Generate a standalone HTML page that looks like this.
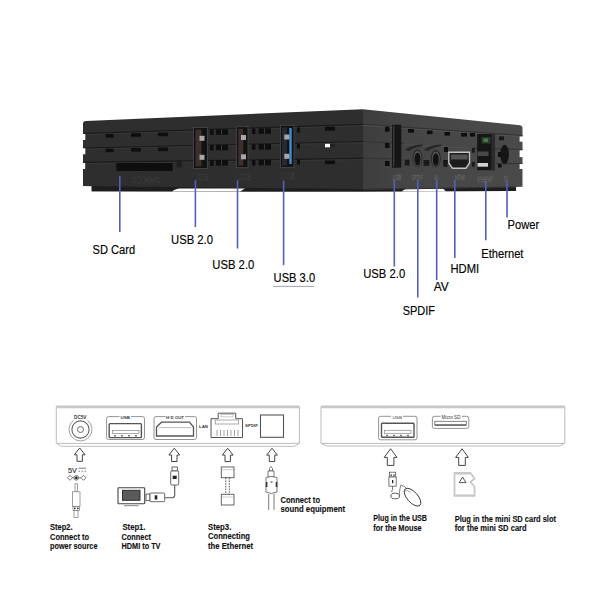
<!DOCTYPE html>
<html><head><meta charset="utf-8">
<style>
html,body{margin:0;padding:0;background:#fff;width:600px;height:600px;overflow:hidden}
svg{display:block}
.lbl{font-family:"Liberation Sans",sans-serif;font-size:12px;fill:#000;stroke:#000;stroke-width:0.15px}
.stp{font-family:"Liberation Sans",sans-serif;font-size:8.4px;font-weight:bold;fill:#111;stroke:#111;stroke-width:0.12px}
.tiny{font-family:"Liberation Sans",sans-serif;font-size:4px;fill:#3a3a3a;font-weight:bold}
</style></head><body>
<svg width="600" height="600" viewBox="0 0 600 600">
<defs>
  <linearGradient id="rf" x1="363" y1="0" x2="522" y2="0" gradientUnits="userSpaceOnUse">
    <stop offset="0" stop-color="#3d3d3d"/><stop offset="0.25" stop-color="#454545"/><stop offset="1" stop-color="#4a4a4a"/>
  </linearGradient>
</defs>
<rect width="600" height="600" fill="#fff"/>

<!-- ===== TOP PRODUCT BOX ===== -->
<g id="box">
  <!-- front face -->
  <path d="M83,123.5 Q83,121 86,121 L363,109.2 L363,191.5 L91.7,191.3 L91.7,186.3 L83,186 Z" fill="#2e2e2e"/>
  <!-- right face -->
  <path d="M363,109.2 L520,125.3 Q522.5,125.6 522.5,128 L522.5,186.7 L516,186.9 L516,191 L363,191.5 Z" fill="url(#rf)"/>
  <!-- foot darker band -->
  <path d="M91.7,186.3 L363,189 L516,186.9 L516,191 L363,191.5 L91.7,191.3 Z" fill="#1d1d1d"/>
  <!-- white wedges under -->
  <path d="M172,191.6 Q175,188.6 180,188.4 L245,188.6 L240,191.6 Z" fill="#fff"/>
  <path d="M402,191.6 Q404,188.6 408,188.4 L443,188.4 L446,191.6 Z" fill="#fff"/>

  <!-- front grooves -->
  <g stroke="#1a1a1a" stroke-width="1.2" fill="none">
    <path d="M83,133.5 L363,124.3"/>
    <path d="M83,148 L363,141.5"/>
    <path d="M83,162.3 L363,158.3"/>
  </g>
  <g stroke="#383838" stroke-width="0.8" fill="none">
    <path d="M83,134.8 L363,125.6"/>
    <path d="M83,149.3 L363,142.8"/>
    <path d="M83,163.6 L363,159.6"/>
  </g>
  <!-- right face grooves -->
  <g stroke="#333" stroke-width="1.1" fill="none">
    <path d="M363,124.3 L522.5,135.5"/>
    <path d="M363,141.5 L404,143.5"/>
    <path d="M474,148 L522.5,149.5"/>
    <path d="M363,158.3 L400,159"/>
    <path d="M496,163.5 L522.5,163.8"/>
    <path d="M363,189.5 L516,187"/>
  </g>
  <g stroke="#555" stroke-width="0.7" fill="none">
    <path d="M363,125.5 L522.5,136.7"/>
    <path d="M404,144.5 L474,148.5"/>
  </g>
  <!-- left notches -->
  <g fill="#fff">
    <rect x="82" y="134" width="3.3" height="6"/>
    <rect x="82" y="148.3" width="3.3" height="6"/>
    <rect x="82" y="163" width="3.2" height="6"/>
    <rect x="519.6" y="136.5" width="4" height="5.2"/>
    <rect x="519.6" y="150.3" width="4" height="6.8"/>
    <rect x="519.6" y="164" width="4" height="5"/>
  </g>
  <!-- front slots -->
  <g fill="#0e0e0e">
    <rect x="105.6" y="134" width="8" height="3.6"/>
    <rect x="131" y="133.2" width="9.8" height="3.6"/>
    <rect x="158" y="132.6" width="10" height="3.6"/>
    <rect x="105.6" y="148.6" width="8" height="3.6"/>
    <rect x="131" y="148" width="9.8" height="3.6"/>
    <rect x="158" y="147.5" width="10" height="3.6"/>
    <!-- SD slot -->
    <rect x="116.3" y="163" width="56.3" height="8" rx="0.5"/>
    <rect x="176.7" y="161" width="5" height="6.3" fill="#1e1e1e"/>
    <!-- small slots around usb -->
    <rect x="210" y="129.5" width="3.5" height="5.5"/>
    <rect x="216" y="129.3" width="12" height="5.5"/>
    <rect x="210" y="145" width="3.5" height="5.5"/>
    <rect x="216" y="144.8" width="12" height="5.5"/>
    <rect x="210" y="160.3" width="3.5" height="5.5"/>
    <rect x="216" y="160.1" width="12" height="5.5"/>
    <rect x="252" y="128.5" width="3.5" height="5.5"/>
    <rect x="258.5" y="128.3" width="12.5" height="5.5"/>
    <rect x="252" y="144.3" width="3.5" height="5.5"/>
    <rect x="258.5" y="144.1" width="12.5" height="5.5"/>
    <rect x="252" y="160" width="3.5" height="5.5"/>
    <rect x="258.5" y="159.8" width="12.5" height="5.5"/>
    <rect x="297" y="127.5" width="3" height="5"/>
    <rect x="297" y="143.5" width="3" height="5"/>
    <rect x="297" y="159.5" width="3" height="5"/>
    <rect x="325" y="126.7" width="10" height="4"/>
    <rect x="325" y="160.5" width="10" height="3.6"/>
    <!-- right face small slots -->
    <rect x="385" y="126.7" width="4.5" height="5"/>
    <rect x="385" y="143" width="4.5" height="5"/>
    <rect x="385" y="161" width="4.5" height="5"/>
    <rect x="408" y="129" width="6" height="3.6"/>
    <rect x="427" y="130.5" width="5.5" height="3.6"/>
    <rect x="444.5" y="132" width="5.5" height="3.6"/>
    <rect x="461" y="133" width="6" height="3.6"/>
    <rect x="470" y="133" width="5" height="3.6"/>
    <rect x="499" y="137" width="5" height="3.2"/>
    <rect x="405" y="160" width="4" height="4"/>
    <rect x="425" y="160" width="4" height="4"/>
    <rect x="443.5" y="160" width="4" height="4"/>
    <rect x="444" y="147" width="4" height="5"/>
    <rect x="498" y="152" width="3.5" height="5"/>
    <rect x="498" y="164" width="3.5" height="3.5"/>
  </g>
  <g fill="#3a3a3a">
    <rect x="221" y="129.5" width="1" height="5"/><rect x="221" y="145" width="1" height="5"/><rect x="221" y="160.3" width="1" height="5"/>
    <rect x="264" y="128.5" width="1" height="5"/><rect x="264" y="144.3" width="1" height="5"/><rect x="264" y="160" width="1" height="5"/>
  </g>
  <rect x="325" y="143.8" width="5" height="3.5" fill="#fff"/>
  <rect x="330" y="143.8" width="5" height="3.5" fill="#222"/>

  <!-- USB ports front -->
  <g>
    <rect x="193.5" y="127.5" width="14" height="41" fill="#121212" stroke="#4a4a4a" stroke-width="0.8"/>
    <rect x="195.5" y="129.5" width="6" height="37" fill="#3b302b"/>
    <rect x="199.5" y="135.8" width="5" height="5" fill="#a8a8a8"/>
    <rect x="199.5" y="154.8" width="5" height="5" fill="#a8a8a8"/>

    <rect x="236.5" y="126.7" width="11.5" height="41" fill="#121212" stroke="#4a4a4a" stroke-width="0.8"/>
    <rect x="238.3" y="128.7" width="5" height="37" fill="#3b302b"/>
    <rect x="241" y="135" width="5" height="5" fill="#a8a8a8"/>
    <rect x="241" y="154.3" width="5" height="5" fill="#a8a8a8"/>

    <rect x="280.5" y="125.3" width="13.5" height="42" fill="#121212" stroke="#4a4a4a" stroke-width="0.8"/>
    <rect x="282" y="127.5" width="5" height="38" fill="#262a30"/>
    <rect x="289.3" y="128" width="2.4" height="36" fill="#3d8fd8"/>
    <rect x="284.3" y="134.5" width="5" height="5" fill="#a8a8a8"/>
    <rect x="284.3" y="153.8" width="5" height="5" fill="#a8a8a8"/>
  </g>

  <!-- right-face ports -->
  <rect x="392" y="124.7" width="9.3" height="43" fill="#161616"/>
  <rect x="393" y="125.7" width="1.3" height="41" fill="#3c3c3c"/>
  <path d="M405,150 Q410,145 422,144.5 L423,146 Q414,147 409,151 Z" fill="#262626"/>
  <path d="M424,150 Q429,145 441,144.5 L442,146 Q433,147 428,151 Z" fill="#262626"/>
  <ellipse cx="417.5" cy="158" rx="5" ry="8.8" fill="#2a2a2a"/>
  <ellipse cx="417.5" cy="158.5" rx="4" ry="7.5" fill="#555"/>
  <ellipse cx="417.5" cy="159" rx="3" ry="6.3" fill="#121212"/>
  <ellipse cx="435.8" cy="158.5" rx="5" ry="8.8" fill="#2a2a2a"/>
  <ellipse cx="435.8" cy="159" rx="4" ry="7.5" fill="#555"/>
  <ellipse cx="435.8" cy="159.5" rx="3" ry="6.3" fill="#121212"/>
  <g fill="#1a1a1a">
    <rect x="404.8" y="159.7" width="4.7" height="5.8"/>
    <rect x="423.5" y="160" width="5.8" height="5.8"/>
    <rect x="443.3" y="161" width="4.2" height="5.8"/>
    <rect x="471.8" y="148" width="3" height="4.7"/>
    <rect x="471.8" y="162" width="3" height="4.7"/>
  </g>
  <!-- HDMI -->
  <path d="M448.8,152.2 L469.5,152.2 L469.5,163 L465.8,168.3 L452.5,168.3 L448.8,163 Z" fill="#1c1c1c" stroke="#c4c4c4" stroke-width="1.4"/>
  <rect x="451" y="154.5" width="16.5" height="5" fill="#555"/>
  <!-- Ethernet -->
  <rect x="477.2" y="134" width="17.5" height="36.2" fill="#161616"/>
  <rect x="491.5" y="134" width="3.2" height="36.2" fill="#2c2c2c"/>
  <rect x="481.5" y="137" width="9" height="6.5" fill="#2a3f2a"/>
  <rect x="483.5" y="138.5" width="4.5" height="3.5" fill="#4a7a4a"/>
  <rect x="477.5" y="151.5" width="11" height="4.5" fill="#484848"/>
  <rect x="477.5" y="163" width="10.5" height="3.7" fill="#d0d0d0"/>
  <!-- power -->
  <ellipse cx="504.6" cy="154.4" rx="4.3" ry="9.6" fill="#151515"/>
  <rect x="499.3" y="136.3" width="4.7" height="3.5" fill="#1a1a1a"/>

  <!-- tiny labels -->
  <g style="font-family:'Liberation Sans',sans-serif" fill="#1a1a1a" stroke="#484848" stroke-width="0.35">
    <text x="132.3" y="183.3" style="font-size:8.8px" textLength="27.8" lengthAdjust="spacingAndGlyphs">SD/MMC</text>
    <text x="193" y="180.3" style="font-size:8.6px" textLength="15" lengthAdjust="spacingAndGlyphs">USB</text>
    <text x="236" y="179.8" style="font-size:8.6px" textLength="14.5" lengthAdjust="spacingAndGlyphs">USB</text>
    <text x="279.5" y="179.3" style="font-size:8.6px" textLength="15" lengthAdjust="spacingAndGlyphs">USB</text>
  </g>
  <g style="font-family:'Liberation Sans',sans-serif" fill="#404040" stroke="#6c6c6c" stroke-width="0.35">
    <text x="392.5" y="179.5" style="font-size:7px" textLength="8.5" lengthAdjust="spacingAndGlyphs">USB</text>
    <text x="411.7" y="179.8" style="font-size:7px" textLength="10.8" lengthAdjust="spacingAndGlyphs">SPDIF</text>
    <text x="434" y="179.8" style="font-size:7px" textLength="4.5" lengthAdjust="spacingAndGlyphs">AV</text>
    <text x="455" y="180.2" style="font-size:7px" textLength="10" lengthAdjust="spacingAndGlyphs">HDMI</text>
    <text x="477.5" y="181.8" style="font-size:6.6px" textLength="15.8" lengthAdjust="spacingAndGlyphs">ETHERNET</text>
    <text x="504" y="180.5" style="font-size:6.6px" textLength="4.5" lengthAdjust="spacingAndGlyphs">5V</text>
  </g>
</g>

<!-- ===== BLUE LEADER LINES ===== -->
<g stroke="#5560b8" stroke-width="1.6" fill="none">
  <path d="M119.8,176 V232"/>
  <path d="M195.4,180.5 V227"/>
  <path d="M237.5,180.5 V248.5"/>
  <path d="M283.6,180.5 V265.2"/>
  <path d="M394.3,180 V266.5"/>
  <path d="M417.8,180 V297.5"/>
  <path d="M436.7,180 V280"/>
  <path d="M454.8,180 V258"/>
  <path d="M485.8,181 V240.3"/>
  <path d="M507,181 V217.5"/>
</g>
<path d="M272.8,286.4 H314.3" stroke="#8a8aa8" stroke-width="0.8"/>

<!-- ===== LABELS ===== -->
<g class="lbl">
  <text x="92.6" y="254" textLength="42.5" lengthAdjust="spacingAndGlyphs">SD Card</text>
  <text x="171" y="244" textLength="42" lengthAdjust="spacingAndGlyphs">USB 2.0</text>
  <text x="212.3" y="268.8" textLength="42" lengthAdjust="spacingAndGlyphs">USB 2.0</text>
  <text x="273.6" y="281.6" textLength="41.5" lengthAdjust="spacingAndGlyphs">USB 3.0</text>
  <text x="363.2" y="277.6" textLength="42" lengthAdjust="spacingAndGlyphs">USB 2.0</text>
  <text x="402.7" y="314.6" textLength="32.3" lengthAdjust="spacingAndGlyphs">SPDIF</text>
  <text x="433.8" y="290.6" textLength="15" lengthAdjust="spacingAndGlyphs">AV</text>
  <text x="450.5" y="272.6" textLength="28.7" lengthAdjust="spacingAndGlyphs">HDMI</text>
  <text x="481.2" y="257.6" textLength="42.3" lengthAdjust="spacingAndGlyphs">Ethernet</text>
  <text x="507.6" y="229" textLength="31.5" lengthAdjust="spacingAndGlyphs">Power</text>
</g>

<!-- ===== BOTTOM DIAGRAMS ===== -->
<g id="diag">
  <!-- left device outline -->
  <g fill="none" stroke="#b4b4b4" stroke-width="0.9">
    <path d="M56.3,443.4 V406.5 H299.4 V443.4 Z"/>
    <path d="M57,443.6 L61.5,446.3 H294.5 L299,443.6"/>
  </g>
  <path d="M56.5,406.7 H299" stroke="#c6c6c6" stroke-width="2.4"/>
  <path d="M56.5,408.2 H299" stroke="#d8d8d8" stroke-width="0.6"/>
  <!-- right device outline -->
  <g fill="none" stroke="#b4b4b4" stroke-width="0.9">
    <path d="M321,443.4 V406.5 H564.8 V443.4 Z"/>
    <path d="M321.7,443.6 L326.5,446 H559.5 L564,443.6"/>
  </g>
  <path d="M321.2,406.7 H564.5" stroke="#c6c6c6" stroke-width="2.4"/>
  <path d="M321.2,408.2 H564.5" stroke="#d8d8d8" stroke-width="0.6"/>

  <!-- DC5V jack -->
  <g fill="none" stroke="#666" stroke-width="0.9">
    <path d="M73.5,420.3 A11.5,11.5 0 1 0 87.5,420.3" stroke-width="0.7" stroke="#777"/>
    <circle cx="80.5" cy="429.5" r="8.6" stroke-width="1.1"/>
    <circle cx="80.5" cy="429.5" r="3" stroke-width="1"/>
  </g>
  <text x="74" y="419" class="tiny" style="font-size:4.8px" textLength="12.5" lengthAdjust="spacingAndGlyphs">DC5V</text>

  <!-- USB port (left) -->
  <g fill="none" stroke="#777" stroke-width="0.8">
    <path d="M119.5,416.6 H108.5 Q106.6,416.6 106.6,418.5 V437.6 Q106.6,439.5 108.5,439.5 H142.6 Q144.5,439.5 144.5,437.6 V418.5 Q144.5,416.6 142.6,416.6 H131"/>
  </g>
  <text x="120.5" y="418.6" class="tiny" style="font-size:4.3px" textLength="9.5" lengthAdjust="spacingAndGlyphs">USB</text>
  <rect x="109.2" y="423.6" width="32.2" height="14" rx="0.8" fill="none" stroke="#555" stroke-width="1.4"/>
  <rect x="112.5" y="430.6" width="26.5" height="3" fill="none" stroke="#888" stroke-width="0.7"/>
  <g fill="#777"><rect x="114" y="435" width="2" height="1.5"/><rect x="121" y="435" width="2" height="1.5"/><rect x="128" y="435" width="2" height="1.5"/><rect x="135" y="435" width="2" height="1.5"/></g>

  <!-- HDMI port -->
  <path d="M165.5,416.6 H156 Q154,416.6 154,418.5 V437.6 Q154,439.5 156,439.5 H194.6 Q196.5,439.5 196.5,437.6 V418.5 Q196.5,416.6 194.6,416.6 H185" fill="none" stroke="#777" stroke-width="0.8"/>
  <text x="166" y="418.6" class="tiny" style="font-size:4.3px" textLength="18" lengthAdjust="spacingAndGlyphs">H·D OUT</text>
  <path d="M161.5,422.2 H189.5 L193.5,427 V436 H156.5 V427 Z" fill="none" stroke="#555" stroke-width="1.3"/>
  <path d="M159,427.6 H191" stroke="#aaa" stroke-width="0.8"/>
  <text x="199" y="427.5" class="tiny" style="font-size:4.4px" textLength="9" lengthAdjust="spacingAndGlyphs">LAN</text>

  <!-- Ethernet jack -->
  <g fill="none" stroke="#555" stroke-width="1">
    <path d="M211,418.7 H218.2 V413.2 H235.7 V418.7 H242.5 V437.5 H211 Z"/>
  </g>
  <rect x="215.2" y="420" width="23.5" height="4" fill="none" stroke="#888" stroke-width="0.7"/>
  <rect x="221" y="414.3" width="12" height="2.6" fill="none" stroke="#999" stroke-width="0.5"/>
  <g stroke="#999" stroke-width="0.9">
    <path d="M217,430 V436 M220.5,430 V436 M224,430 V436 M227.5,430 V436 M231,430 V436 M234.5,430 V436 M238,430 V436"/>
  </g>
  <text x="245" y="427.3" class="tiny" style="font-size:4.4px" textLength="13" lengthAdjust="spacingAndGlyphs">SPDIF</text>
  <rect x="260.5" y="415" width="23" height="22.3" fill="none" stroke="#555" stroke-width="1.1"/>

  <!-- right device: USB -->
  <path d="M391,416.3 H380.5 Q378.6,416.3 378.6,418.2 V437.8 Q378.6,439.8 380.5,439.8 H415 Q417,439.8 417,437.8 V418.2 Q417,416.3 415,416.3 H403" fill="none" stroke="#777" stroke-width="0.8"/>
  <text x="392.5" y="418.6" class="tiny" style="font-size:4.4px;font-weight:normal;fill:#333" textLength="9.5" lengthAdjust="spacingAndGlyphs">USB</text>
  <rect x="381.5" y="423.3" width="32.5" height="14" rx="0.8" fill="none" stroke="#555" stroke-width="1.4"/>
  <rect x="384.5" y="430.3" width="26.5" height="3" fill="none" stroke="#888" stroke-width="0.7"/>
  <g fill="#777"><rect x="386" y="434.8" width="2" height="1.5"/><rect x="393" y="434.8" width="2" height="1.5"/><rect x="400" y="434.8" width="2" height="1.5"/><rect x="407" y="434.8" width="2" height="1.5"/></g>
  <!-- micro SD -->
  <path d="M440.5,416.3 H434.3 Q432.4,416.3 432.4,418.2 V426.5 Q432.4,428.4 434.3,428.4 H466.8 Q468.8,428.4 468.8,426.5 V418.2 Q468.8,416.3 466.8,416.3 H462" fill="none" stroke="#777" stroke-width="0.8"/>
  <text x="441.5" y="419" class="tiny" style="font-size:4.6px;font-weight:normal;fill:#333" textLength="19" lengthAdjust="spacingAndGlyphs">Micro SD</text>
  <rect x="434.8" y="421.3" width="31.5" height="3.8" fill="none" stroke="#666" stroke-width="0.8"/><path d="M435,425 H466" stroke="#333" stroke-width="1"/>

  <!-- arrows -->
  <g fill="#fff" stroke="#444" stroke-width="1" stroke-linejoin="miter">
    <path d="M79.7,448 L85.1,454.8 L82.4,454.8 L82.4,461.3 L77.0,461.3 L77.0,454.8 L74.3,454.8 Z"/>
    <path d="M174.3,448.2 L179.7,455.0 L177.0,455.0 L177.0,461.5 L171.6,461.5 L171.6,455.0 L168.9,455.0 Z"/>
    <path d="M227.7,448.3 L233.1,455.1 L230.4,455.1 L230.4,461.6 L225.0,461.6 L225.0,455.1 L222.3,455.1 Z"/>
    <path d="M272,448.3 L277.4,455.1 L274.7,455.1 L274.7,461.6 L269.3,461.6 L269.3,455.1 L266.6,455.1 Z"/>
    <path d="M390.6,448.8 L397.0,457.4 L393.9,457.4 L393.9,465.4 L387.3,465.4 L387.3,457.4 L384.2,457.4 Z"/>
    <path d="M462,448.8 L468.4,457.4 L465.3,457.4 L465.3,465.4 L458.7,465.4 L458.7,457.4 L455.6,457.4 Z"/>
  </g>

  <!-- DC plug icon -->
  <text x="68" y="472.8" style="font-family:'Liberation Sans',sans-serif;font-size:7px;fill:#333;stroke:#333;stroke-width:0.15" textLength="9" lengthAdjust="spacingAndGlyphs">5V</text>
  <path d="M78.5,468.2 H86 M78.5,471.2 H80 M81.5,471.2 H83 M84.5,471.2 H86" stroke="#444" stroke-width="0.7"/>
  <g fill="none" stroke="#444" stroke-width="0.7">
    <path d="M67.5,477.8 L70,475.3 L72.5,477.8 L70,480.3 Z"/>
    <path d="M81,477.8 L83.5,475.3 L86,477.8 L83.5,480.3 Z"/>
    <circle cx="76.3" cy="477.8" r="2.3"/>
    <path d="M72.5,477.8 H74 M78.6,477.8 H81"/>
  </g>
  <circle cx="76.3" cy="477.8" r="1.4" fill="#222"/>
  <g fill="#fff" stroke="#777" stroke-width="0.7">
    <rect x="75" y="483.8" width="2.5" height="7.5"/>
    <rect x="72.5" y="491.8" width="7.5" height="14.5"/>
    <rect x="73" y="506.5" width="6.5" height="4"/>
    <rect x="74" y="510.6" width="4" height="7"/>
  </g>
  <g fill="#333"><rect x="74" y="507.6" width="1.6" height="1.6"/><rect x="77" y="507.6" width="1.6" height="1.6"/></g>

  <!-- HDMI cable + TV -->
  <g fill="#fff" stroke="#444" stroke-width="0.8">
    <rect x="172" y="467" width="5.3" height="4"/>
    <rect x="170.7" y="471" width="8" height="14" rx="1"/>
    <rect x="118" y="487.7" width="26.7" height="16" rx="0.8" stroke-width="1.1"/>
    <rect x="146" y="494" width="4" height="6.7"/>
    <rect x="150" y="493" width="14.7" height="8.7" rx="1"/>
  </g>
  <rect x="122.5" y="490.3" width="17.5" height="10" fill="#5a5a5a" stroke="#222" stroke-width="0.9"/>
  <path d="M124,505.7 H138.7" stroke="#666" stroke-width="0.8"/>
  <rect x="172.7" y="475.7" width="4" height="3.3" fill="#222"/>
  <rect x="154.7" y="495.3" width="2.6" height="4.2" fill="#222"/>
  <path d="M174.7,485 V495 Q174.7,497.7 172,497.7 H164.7" fill="none" stroke="#555" stroke-width="1.1"/>

  <!-- Ethernet cable -->
  <g fill="#fff" stroke="#555" stroke-width="0.9">
    <rect x="221.3" y="467" width="12.7" height="10.7"/>
    <rect x="221.3" y="494.3" width="12.7" height="10.7"/>
  </g>
  <path d="M221.3,469.7 H234 M221.3,497 H234" stroke="#999" stroke-width="0.5"/>
  <path d="M225.8,477.7 V494.3 M229.3,477.7 V494.3" stroke="#444" stroke-width="0.9" stroke-dasharray="1.6 1.1"/>

  <!-- Optical cable -->
  <g fill="#fff" stroke="#555" stroke-width="0.8">
    <path d="M269.5,471 V468.5 L271,466.5 L272.5,468.5 V471 Z"/>
    <path d="M268,471 H274 V477 H268 Z"/>
    <path d="M266,477.5 Q271,475.5 277,477.5 V492 Q271,495 266,492 Z"/>
    <path d="M268.7,494 V510 M274,494 V510"/>
  </g>
  <g fill="#333"><rect x="265.8" y="482" width="1.6" height="5"/><rect x="275.7" y="482" width="1.6" height="5"/><rect x="270.5" y="481.5" width="2" height="1"/></g>

  <!-- USB plug + mouse -->
  <g fill="#fff" stroke="#555" stroke-width="0.8">
    <rect x="389.4" y="472.2" width="6.3" height="4.8"/>
    <rect x="388.9" y="477" width="7.3" height="9.2"/>
  </g>
  <g fill="#222"><rect x="390.5" y="474.5" width="1.5" height="1.2"/><rect x="393.2" y="474.5" width="1.5" height="1.2"/><rect x="392" y="480" width="1.3" height="3.2"/></g>
  <path d="M392.5,486.2 V489.5 L391.5,492" fill="none" stroke="#555" stroke-width="0.8"/>
  <ellipse cx="395.2" cy="496" rx="4.4" ry="2.8" fill="none" stroke="#333" stroke-width="0.8"/>
  <path d="M399.2,494.5 Q400,487 401,485 Q405,486 408,490" fill="none" stroke="#444" stroke-width="0.7"/>
  <ellipse cx="412.5" cy="497.2" rx="5.3" ry="11" transform="rotate(-42 412.5 497.2)" fill="#fff" stroke="#333" stroke-width="0.9"/>
  <path d="M404,491.5 Q407.5,489 410.5,492.5" fill="none" stroke="#666" stroke-width="0.6"/>

  <!-- SD card icon -->
  <path d="M454.5,473 H470.5 L474.5,478.5 L470.5,482 L474.5,486.5 V495.8 H454.5 Z" fill="#fff" stroke="#c8c8c8" stroke-width="1.8"/>
  <path d="M456,474.3 H469.8 M456,494.5 H473" stroke="#aaa" stroke-width="0.4"/>
  <path d="M459.2,482.6 L462.6,477 L466,482.6 Z" fill="none" stroke="#444" stroke-width="0.9"/>

  <!-- step texts -->
  <g class="stp">
    <text x="50" y="529.8" textLength="22.5" lengthAdjust="spacingAndGlyphs">Step2.</text>
    <text x="50" y="539.6" textLength="39" lengthAdjust="spacingAndGlyphs">Connect to</text>
    <text x="50" y="548.6" textLength="47.5" lengthAdjust="spacingAndGlyphs">power source</text>
    <text x="122.5" y="529.8" textLength="23" lengthAdjust="spacingAndGlyphs">Step1.</text>
    <text x="121.5" y="539.8" textLength="29.5" lengthAdjust="spacingAndGlyphs">Connect</text>
    <text x="121.5" y="548.8" textLength="39" lengthAdjust="spacingAndGlyphs">HDMI to TV</text>
    <text x="208" y="529.5" textLength="23.3" lengthAdjust="spacingAndGlyphs">Step3.</text>
    <text x="208" y="539.3" textLength="42" lengthAdjust="spacingAndGlyphs">Connecting</text>
    <text x="208" y="548.8" textLength="45" lengthAdjust="spacingAndGlyphs">the Ethernet</text>
    <text x="280.5" y="503.3" textLength="39.5" lengthAdjust="spacingAndGlyphs">Connect to</text>
    <text x="280.5" y="512" textLength="64.5" lengthAdjust="spacingAndGlyphs">sound equipment</text>
    <text x="373.3" y="521.4" textLength="53.7" lengthAdjust="spacingAndGlyphs">Plug in the USB</text>
    <text x="373.3" y="530.8" textLength="48.4" lengthAdjust="spacingAndGlyphs">for the Mouse</text>
    <text x="454.7" y="521.6" textLength="101.3" lengthAdjust="spacingAndGlyphs">Plug in the  mini SD card slot</text>
    <text x="454.7" y="530.7" textLength="72" lengthAdjust="spacingAndGlyphs">for the  mini SD card</text>
  </g>
</g>

</svg>
</body></html>
